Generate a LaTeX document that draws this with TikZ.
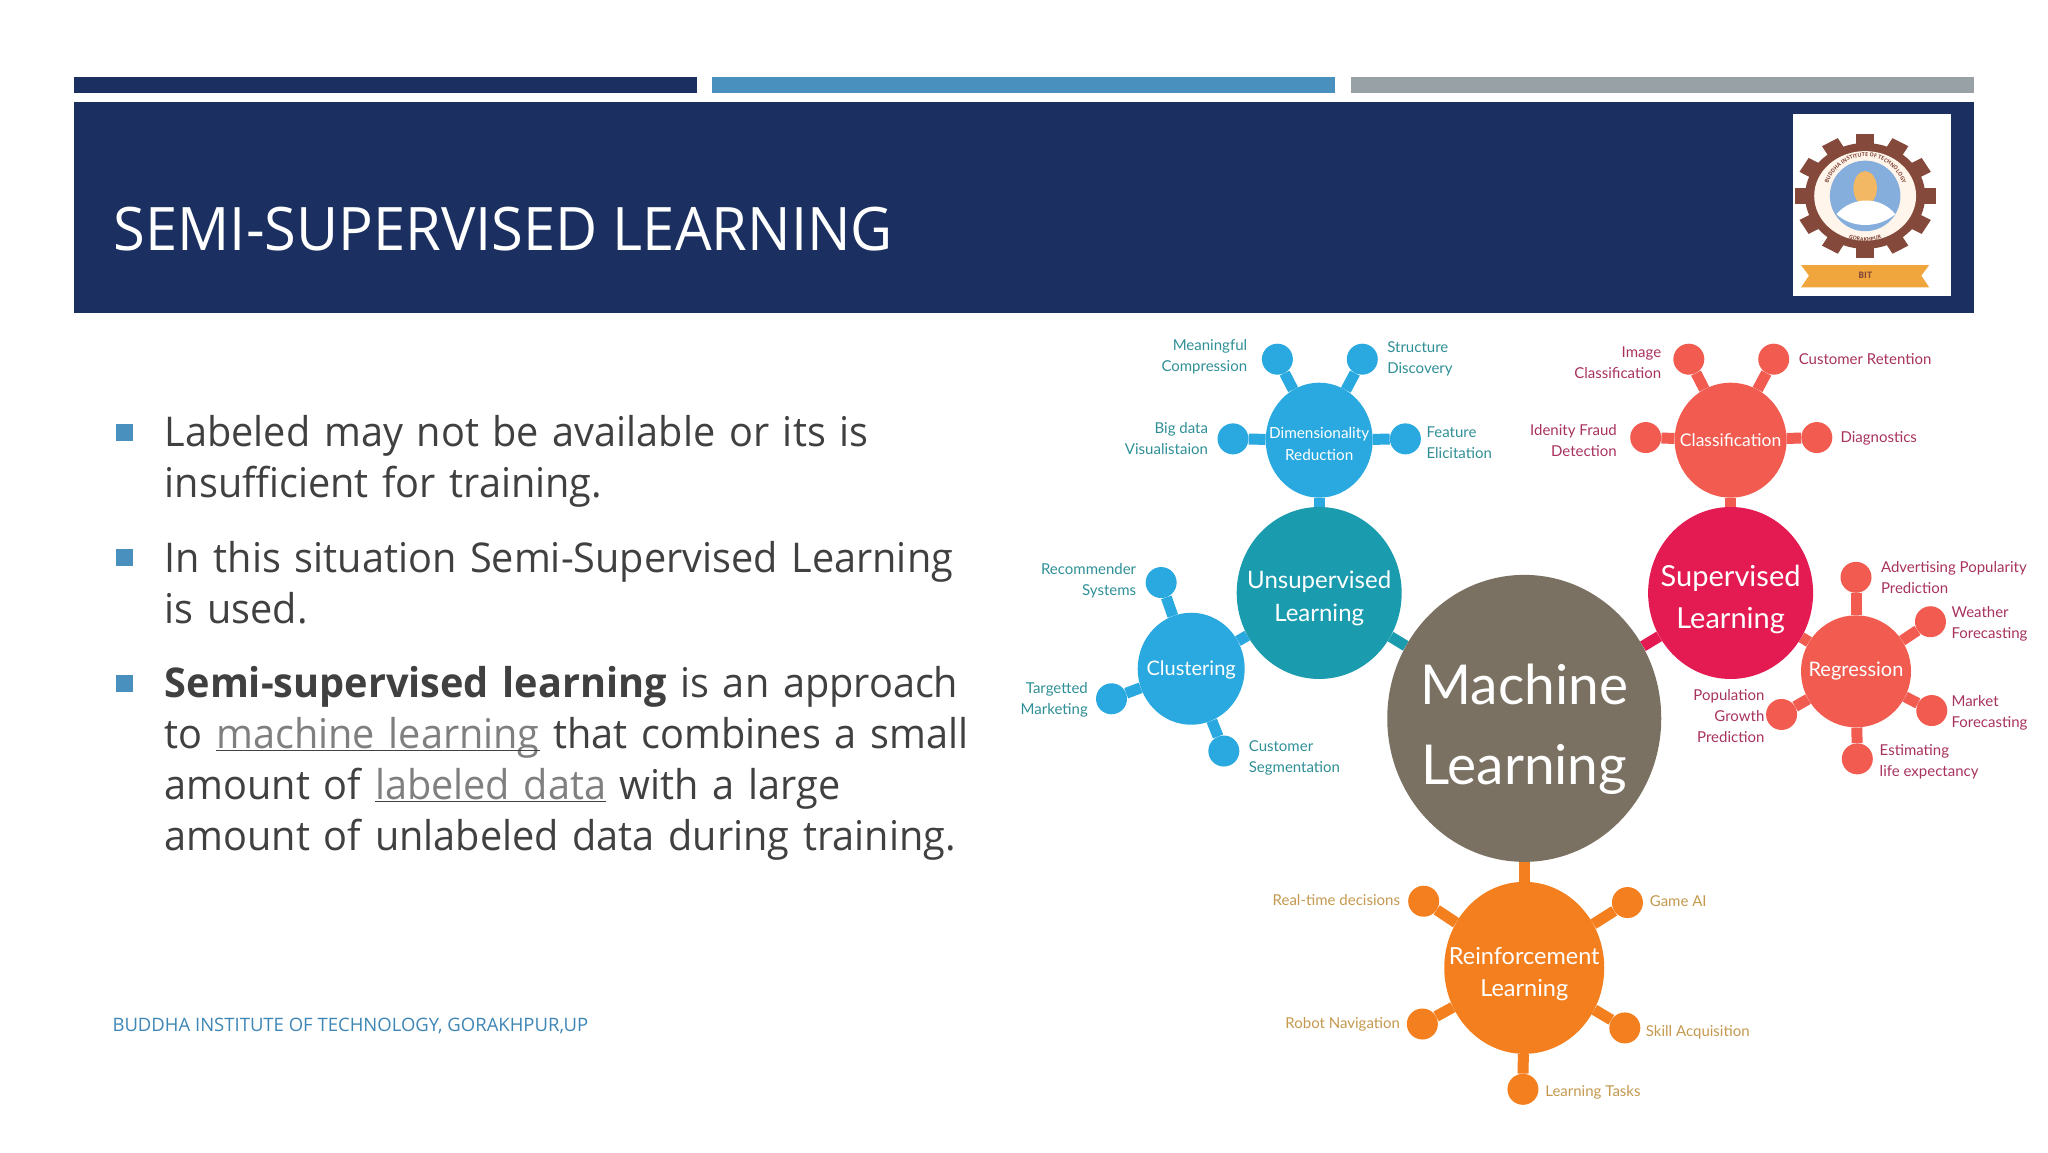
\documentclass[tikz,border=0pt]{standalone}
\usepackage{fontspec}
\setmainfont{Open Sans}[FakeStretch=0.967]
\newfontfamily\titlefont{Open Sans}[FakeStretch=0.964]
\newfontfamily\footfont{Open Sans}
\newfontfamily\imgfont{Lato}
\usetikzlibrary{shapes.geometric,backgrounds,decorations.text}
\definecolor{navy}{HTML}{1B3060}
\definecolor{midblue}{HTML}{4A90BF}
\definecolor{greybar}{HTML}{98A1A6}
\definecolor{bodytext}{HTML}{404040}
\definecolor{linktext}{HTML}{7F7F7F}
\definecolor{footblue}{HTML}{3E86B5}
\definecolor{mlgrey}{HTML}{7A7163}
\definecolor{unsupteal}{HTML}{1A9BAE}
\definecolor{supred}{HTML}{E31B52}
\definecolor{skyb}{HTML}{29A9E0}
\definecolor{coral}{HTML}{F15B50}
\definecolor{orangeb}{HTML}{F47F1E}
\definecolor{tealtxt}{HTML}{2F8F96}
\definecolor{redtxt}{HTML}{A8325E}
\definecolor{orgtxt}{HTML}{C4984E}
\definecolor{gearbrown}{HTML}{84493A}
\definecolor{logoblue}{HTML}{86AEDD}
\definecolor{logoorange}{HTML}{F0A63C}
\tikzset{
 x=1.30612pt,y=-1.30612pt,
 big/.style={ellipse,inner sep=0pt},
 bigtext/.style={inner sep=0pt,text=white,align=center},
 leaf/.style={circle,inner sep=0pt,minimum size=31pt},
 lbl/.style={font=\imgfont\fontsize{15}{21}\selectfont,inner sep=0pt},
 lnk/.style={line width=11pt},
 bullet/.style={fill=midblue,minimum size=17pt,inner sep=0pt},
 para/.style={anchor=north west,inner sep=0pt,align=left,text width=840pt,text=bodytext,font=\fontsize{41}{51}\selectfont},
}
\newcommand{\linkword}[1]{\underline{\smash{\color{linktext}#1}}}
\begin{document}
\begin{tikzpicture}
\useasboundingbox (0,0) rectangle (1568,882);
% header
\fill[navy] (57,59) rectangle (534,71);
\fill[midblue] (545,59) rectangle (1022,71);
\fill[greybar] (1034,59) rectangle (1511,71);
\fill[navy] (57,78) rectangle (1511,240);
\node[anchor=base west,inner sep=0pt,text=white,font=\titlefont\fontsize{60}{60}\selectfont] (title) at (87,192) {SEMI-SUPERVISED LEARNING};
% logo
\fill[white] (1373,87) rectangle (1494,227);
\begin{scope}[shift={(1428,150)}]
 \begin{scope}[yscale=0.88]
 \foreach \a in {0,30,...,330}{\fill[gearbrown,rotate=\a] (-7,-54) rectangle (7,-42);}
 \fill[gearbrown] (0,0) circle (46);
 \fill[white!92!orange] (0,0) circle (39);
 \end{scope}
 \fill[logoblue] (0,0) circle (27);
 \fill[logoorange!80!white] (0,-6) ellipse (9 and 13);
 \fill[white] (-22,14) .. controls (-10,0) and (12,0) .. (23,14) .. controls (10,25) and (-10,25) .. (-22,14);
 \path[decorate,decoration={text along path,text align=center,text={|\fontsize{5.5}{6}\selectfont\bfseries\color{gearbrown}|BUDDHA INSTITUTE OF TECHNOLOGY}}] (-28.2,9.8) arc[start angle=161,end angle=379,radius=30];
 \path[decorate,decoration={text along path,text align=center,text={|\fontsize{5.5}{6}\selectfont\bfseries\color{gearbrown}|GORAKHPUR}}] (-28.7,20.1) arc[start angle=145,end angle=35,radius=35];
 \fill[logoorange] (-49,53) -- (49,53) -- (43,61) -- (49,70) -- (-49,70) -- (-43,61) -- cycle;
 \node[text=gearbrown,font=\fontsize{9}{9}\selectfont\bfseries,inner sep=0pt] (logotext) at (0,61) {BIT};
\end{scope}
% bullets
\node[bullet] (b1) at (95,331) {};
\node[bullet] (b2) at (95,427) {};
\node[bullet] (b3) at (95,523) {};
\node[para] (p1) at (126,318) {Labeled may not be available or its is\\insufficient for training.};
\node[para] (p2) at (126,414) {In this situation Semi-Supervised Learning\\is used.};
\node[para] (p3) at (126,510) {\textbf{Semi-supervised learning} is an approach\\to \linkword{machine learning} that combines a small\\amount of \linkword{labeled data} with a large\\amount of unlabeled data during training.};
\node[anchor=base west,inner sep=0pt,text=footblue,font=\footfont\fontsize{18.5}{20}\selectfont] (foot) at (86,790) {BUDDHA INSTITUTE OF TECHNOLOGY, GORAKHPUR,UP};
% mind map
\node[big,fill=mlgrey,minimum width=274pt,minimum height=287pt] (ml) at (1167,550) {};
\node[big,fill=unsupteal,minimum width=165pt,minimum height=172pt] (un) at (1010,454) {};
\node[big,fill=supred,minimum width=165pt,minimum height=172pt] (su) at (1325,454) {};
\node[big,fill=skyb,minimum width=107pt,minimum height=115pt] (dim) at (1010,337) {};
\node[big,fill=coral,minimum width=112pt,minimum height=115pt] (cla) at (1325,337) {};
\node[big,fill=skyb,minimum width=107pt,minimum height=112pt] (clu) at (912,512) {};
\node[big,fill=coral,minimum width=110pt,minimum height=112pt] (reg) at (1421,514) {};
\node[big,fill=orangeb,minimum width=160pt,minimum height=172pt] (rei) at (1167,741) {};
\node[bigtext,font=\imgfont\fontsize{55}{80}\selectfont] (mlt) at (1167,558) {Machine\\Learning};
\node[bigtext,font=\imgfont\fontsize{24}{33}\selectfont] (unt) at (1010,458) {Unsupervised\\Learning};
\node[bigtext,font=\imgfont\fontsize{29}{42}\selectfont] (sut) at (1325,459) {Supervised\\Learning};
\node[bigtext,font=\imgfont\fontsize{15.3}{22}\selectfont] (dimt) at (1010,340) {Dimensionality\\Reduction};
\node[bigtext,font=\imgfont\fontsize{17.5}{22}\selectfont] (clat) at (1325,337) {Classification};
\node[bigtext,font=\imgfont\fontsize{20}{24}\selectfont] (clut) at (912,513) {Clustering};
\node[bigtext,font=\imgfont\fontsize{20}{24}\selectfont] (regt) at (1421,514) {Regression};
\node[bigtext,font=\imgfont\fontsize{23.5}{32}\selectfont] (reit) at (1167,746) {Reinforcement\\Learning};
% leaves
\foreach \n/\x/\y/\c in {d1/978/275/skyb,d2/1043/275/skyb,d3/944/336/skyb,d4/1076/336/skyb,
 c1/1293/275/coral,c2/1358/275/coral,c3/1260/335/coral,c4/1391/335/coral,
 k1/889/446/skyb,k2/851/535/skyb,k3/937/575/skyb,
 g1/1421/442/coral,g2/1478/476/coral,g3/1479/544/coral,g4/1422/581/coral,g5/1364/547/coral,
 r1/1090/690/orangeb,r2/1246/691/orangeb,r3/1089/784/orangeb,r4/1244/787/orangeb,r5/1166/834/orangeb}
 {\node[leaf,fill=\c] (\n) at (\x,\y) {};}
% connectors
\begin{scope}[on background layer]
 \draw[lnk,unsupteal] (un) -- (ml);
 \draw[lnk,supred] (su) -- (ml);
 \draw[lnk,orangeb] (rei) -- (ml);
 \draw[lnk,skyb] (dim) -- (un);
 \draw[lnk,coral] (cla) -- (su);
 \draw[lnk,skyb] (clu) -- (un);
 \draw[lnk,coral] (reg) -- (su);
 \foreach \n in {d1,d2,d3,d4}{\draw[lnk,skyb] (dim) -- (\n);}
 \foreach \n in {c1,c2,c3,c4}{\draw[lnk,coral] (cla) -- (\n);}
 \foreach \n in {k1,k2,k3}{\draw[lnk,skyb] (clu) -- (\n);}
 \foreach \n in {g1,g2,g3,g4,g5}{\draw[lnk,coral] (reg) -- (\n);}
 \foreach \n in {r1,r2,r3,r4,r5}{\draw[lnk,orangeb] (rei) -- (\n);}
\end{scope}
% labels
\begin{scope}[every node/.style={lbl}]
 \node[text=tealtxt,align=right,anchor=east] (ld1) at (955,273) {Meaningful\\Compression};
 \node[text=tealtxt,align=left,anchor=west] (ld2) at (1062,275) {Structure\\Discovery};
 \node[text=tealtxt,align=right,anchor=east] (ld3) at (925,336) {Big data\\Visualistaion};
 \node[text=tealtxt,align=left,anchor=west] (ld4) at (1092,339) {Feature\\Elicitation};
 \node[text=tealtxt,align=right,anchor=east] (lk1) at (870,445) {Recommender\\Systems};
 \node[text=tealtxt,align=right,anchor=east] (lk2) at (833,536) {Targetted\\Marketing};
 \node[text=tealtxt,align=left,anchor=west] (lk3) at (956,580) {Customer\\Segmentation};
 \node[text=redtxt,align=right,anchor=east] (lc1) at (1272,278) {Image\\Classification};
 \node[text=redtxt,align=left,anchor=west] (lc2) at (1377,275) {Customer Retention};
 \node[text=redtxt,align=right,anchor=east] (lc3) at (1238,337) {Idenity Fraud\\Detection};
 \node[text=redtxt,align=left,anchor=west] (lc4) at (1409,336) {Diagnostics};
 \node[text=redtxt,align=left,anchor=west] (lg1) at (1440,442) {Advertising Popularity\\Prediction};
 \node[text=redtxt,align=left,anchor=west] (lg2) at (1494,478) {Weather\\Forecasting};
 \node[text=redtxt,align=left,anchor=west] (lg3) at (1494,546) {Market\\Forecasting};
 \node[text=redtxt,align=left,anchor=west] (lg4) at (1439,583) {Estimating\\life expectancy};
 \node[text=redtxt,align=right,anchor=east] (lg5) at (1351,548) {Population\\Growth\\Prediction};
 \node[text=orgtxt,anchor=east] (lr1) at (1072,689) {Real-time decisions};
 \node[text=orgtxt,anchor=west] (lr2) at (1263,690) {Game AI};
 \node[text=orgtxt,anchor=east] (lr3) at (1072,784) {Robot Navigation};
 \node[text=orgtxt,anchor=west] (lr4) at (1260,790) {Skill Acquisition};
 \node[text=orgtxt,anchor=west] (lr5) at (1183,836) {Learning Tasks};
\end{scope}
\end{tikzpicture}
\end{document}
